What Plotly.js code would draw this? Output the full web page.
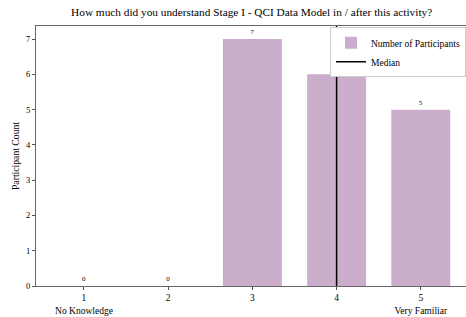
<!DOCTYPE html>
<html><head><meta charset="utf-8">
<script src="https://cdn.plot.ly/plotly-3.0.1.min.js"></script>
<style>html,body{margin:0;padding:0;background:#fff}#c{width:466px;height:317px}</style>
</head><body><div id="c"></div>
<script>
const ratings = [1, 2, 3, 4, 5];
const counts = [0, 0, 7, 6, 5];
const tickLabels = ["1<br>No Knowledge", "2", "3", "4", "5<br>Very Familiar"];
const median = 4;
const yTicks = [0, 1, 2, 3, 4, 5, 6, 7];

const ymax = Math.max(...counts) * 1.053;
const font = "Liberation Serif, Times New Roman, serif";

const traces = [
  {
    type: "bar", x: ratings, y: counts, name: "Number of Participants",
    width: 0.7,
    marker: {color: "#cbaecb", line: {width: 0}},
    text: counts.map(String), textposition: "outside", cliponaxis: false,
    textfont: {family: font, size: 7, color: "#000000"}
  },
  {
    type: "scatter", mode: "lines", x: [median, median], y: [0, ymax],
    name: "Median", line: {color: "#000", width: 1.5}
  }
];

const layout = {
  width: 466, height: 317,
  margin: {l: 36, r: 0, t: 26, b: 31},
  paper_bgcolor: "#fff", plot_bgcolor: "#fff",
  font: {family: font, color: "#000", size: 9},
  title: {text: "How much did you understand Stage I - QCI Data Model in / after this activity?",
          font: {family: font, size: 11.3, color: "#000"}, x: 0.54, xanchor: "center", y: 0.975, yanchor: "top"},
  xaxis: {
    range: [0.43, 5.537], tickvals: ratings, ticktext: tickLabels,
    ticks: "outside", ticklen: 3, tickcolor: "#555", showgrid: false, zeroline: false,
    showline: true, linecolor: "#666", linewidth: 1, mirror: true,
    tickfont: {family: font, size: 9.5, color: "#000"}
  },
  yaxis: {
    range: [0, ymax], tickvals: yTicks,
    ticks: "outside", ticklen: 3, tickcolor: "#555", showgrid: false, zeroline: false,
    showline: true, linecolor: "#666", linewidth: 1, mirror: false,
    tickfont: {family: font, size: 8.5, color: "#000"},
    title: {text: "Participant Count", font: {family: font, size: 9.7, color: "#000"}, standoff: 4}
  },
  showlegend: true,
  legend: {x: 1, y: 0.995, xanchor: "right", yanchor: "top",
           bgcolor: "#fff", bordercolor: "#ccc", borderwidth: 1,
           font: {family: font, size: 9.5, color: "#000"}, tracegroupgap: 0, itemwidth: 30}
};

Plotly.newPlot("c", traces, layout, {staticPlot: true, displayModeBar: false});
</script></body></html>
